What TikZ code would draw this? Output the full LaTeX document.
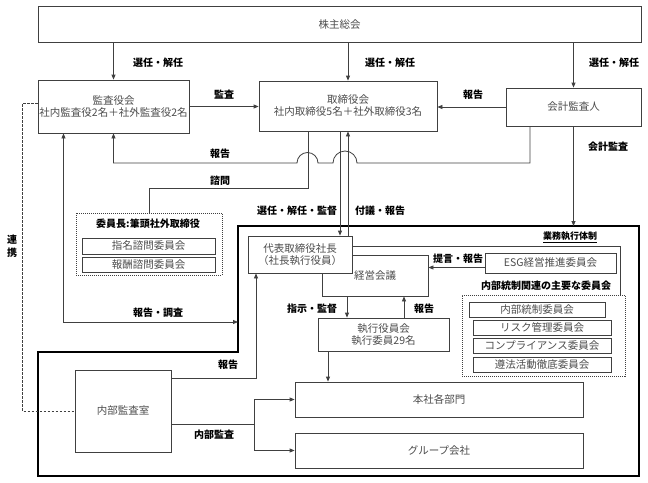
\documentclass[tikz,border=0pt]{standalone}
\usepackage{fontspec}
\setmainfont{Noto Sans CJK JP}
\usetikzlibrary{arrows.meta}

\tikzset{
   box/.style={draw=black!75, line width=0.8pt, fill=white, text=black!70, inner sep=0pt,
      align=center, font=\fontsize{10.5}{12}\selectfont},
   lbl/.style={text=black, inner sep=0pt, font=\bfseries\fontsize{10}{12}\selectfont},
   line/.style={draw=black!75, line width=0.8pt},
   arr/.style={line, -{Triangle[length=5pt,width=4pt]}},
   dblarr/.style={line, {Triangle[length=5pt,width=4pt]}-{Triangle[length=5pt,width=4pt]}},
   renkei/.style={line, dash pattern=on 2.5pt off 1.5pt},
   dotbox/.style={draw=black!75, line width=0.6pt, dash pattern=on 1pt off 1pt, inner sep=0pt},
   frame/.style={draw=black, line width=2.2pt},
}

\begin{document}
\begin{tikzpicture}[x=1pt,y=-1pt]
   \useasboundingbox (0,0) rectangle (648,482);

   % business execution frame
   \coordinate (fr-nw) at (238,226);
   \coordinate (fr-ne) at (639,226);
   \coordinate (fr-se) at (639,476);
   \coordinate (fr-sw) at (38,476);
   \coordinate (fr-w) at (38,352);
   \coordinate (fr-c) at (238,352);
   \draw[frame] (fr-nw) -- (fr-ne) -- (fr-se) -- (fr-sw) -- (fr-w) -- (fr-c) -- cycle;

   \node[box, minimum width=603pt, minimum height=35.5pt] (agm) at (339.5,24.25) {株主総会};
   \node[box, minimum width=151pt, minimum height=53pt] (kansa) at (113.5,106.5)
      {監査役会\\社内監査役2名＋社外監査役2名};
   \node[box, minimum width=178pt, minimum height=50pt] (tori) at (348,106)
      {取締役会\\社内取締役5名＋社外取締役3名};
   \node[box, minimum width=135pt, minimum height=38pt] (kaikei) at (573.5,107) {会計監査人};

   \node[dotbox, minimum width=146pt, minimum height=62pt] (advisory) at (149,244) {};
   \node[lbl] (chair) at (148,224) {委員長:筆頭社外取締役};
   \node[box, minimum width=133pt, minimum height=16pt] (shimei) at (148.5,246) {指名諮問委員会};
   \node[box, minimum width=133pt, minimum height=15pt] (houshu) at (148.5,264.5) {報酬諮問委員会};

   \node[box, minimum width=106pt, minimum height=41pt] (keiei) at (375,275.5) {経営会議};
   \node[box, minimum width=104pt, minimum height=37pt] (president) at (300,254.5)
      {代表取締役社長\\（社長執行役員）};
   \node[box, minimum width=131pt, minimum height=20pt] (esg) at (550.5,263) {ESG経営推進委員会};
   \node[lbl, font=\bfseries\fontsize{9}{11}\selectfont] (gyomu) at (570,237) {\underline{業務執行体制}};
   \node[lbl] (ic-title) at (546,286) {内部統制関連の主要な委員会};

   \node[dotbox, minimum width=163pt, minimum height=81pt] (icbox) at (543.5,335.5) {};
   \node[box, minimum width=136pt, minimum height=15pt] (naibutosei) at (537,309.5) {内部統制委員会};
   \node[box, minimum width=138pt, minimum height=15pt] (risk) at (542,327.5) {リスク管理委員会};
   \node[box, minimum width=138pt, minimum height=15pt] (comp) at (542,345.5) {コンプライアンス委員会};
   \node[box, minimum width=138pt, minimum height=15pt] (junpo) at (542,364.5) {遵法活動徹底委員会};

   \node[box, minimum width=131pt, minimum height=33pt] (shikkou) at (383.5,334.5)
      {執行役員会\\執行委員29名};
   \node[box, minimum width=96pt, minimum height=82pt] (audit) at (123,411) {内部監査室};
   \node[box, minimum width=288pt, minimum height=35pt] (honsha) at (439,399.5) {本社各部門};
   \node[box, minimum width=288pt, minimum height=35pt] (group) at (439,450.5) {グループ会社};

   % connectors
   \draw[arr] (agm.south -| kansa.north) -- (kansa.north);
   \draw[arr] (agm.south -| tori.north) -- (tori.north);
   \draw[arr] (agm.south -| kaikei.north) -- (kaikei.north);
   \draw[arr] (kansa.east) -- (kansa.east -| tori.west);
   \draw[arr] (kaikei.west) -- (kaikei.west -| tori.east);
   \draw[renkei] ([yshift=3.5pt]kansa.west) -- ++(-15,0) |- (audit.west);

   \coordinate (hop1) at (357,163);
   \coordinate (hop2) at (318,163);
   \draw[arr] ([xshift=-43.5pt]kaikei.south) |- (hop1) arc[start angle=0, end angle=180, radius=12pt]
      -- (hop2) arc[start angle=0, end angle=180, radius=10.5pt] -| (kansa.south);

   \coordinate (shimon) at (308,188);
   \draw[line] (advisory.north) |- (shimon) -- (shimon |- tori.south);

   \draw[arr] ([xshift=-8pt]tori.south) -- ([xshift=-8pt]tori.south |- president.north);
   \draw[arr] (tori.south |- president.north) -- (tori.south);
   \draw[arr] (kaikei.south) -- (kaikei.south |- fr-nw);

   \coordinate (chosa) at (238,322);
   \draw[dblarr] ([xshift=-50pt]kansa.south) |- (chosa);

   \draw[arr] ([yshift=-4.5pt]esg.west) -- ([yshift=-4.5pt]esg.west -| keiei.east);
   \draw[line] ([yshift=8.5pt]president.east) -| ([xshift=76.5pt]icbox.north);
   \draw[arr] ([xshift=-28pt]keiei.south) -- ([xshift=-28pt]keiei.south |- shikkou.north);
   \draw[arr] ([xshift=29pt]keiei.south |- shikkou.north) -- ([xshift=29pt]keiei.south);
   \draw[arr] ([xshift=-55.5pt]shikkou.south) -- ([xshift=-55.5pt]shikkou.south |- honsha.north);

   \draw[arr] ([yshift=33pt]audit.east) -| ([xshift=-44pt]president.south);
   \draw[line] ([yshift=-13pt]audit.east) -- ++(83,0) coordinate (fork);
   \draw[arr] (fork) |- (honsha.west);
   \draw[arr] (fork) |- (group.west);

   % labels
   \node[lbl] (l-sennin1) at (158,63) {選任・解任};
   \node[lbl] (l-sennin2) at (390,63) {選任・解任};
   \node[lbl] (l-sennin3) at (614,63) {選任・解任};
   \node[lbl] (l-kansa) at (224,95) {監査};
   \node[lbl] (l-hokoku1) at (473,95) {報告};
   \node[lbl] (l-kaikei) at (608,147) {会計監査};
   \node[lbl] (l-hokoku2) at (220,154) {報告};
   \node[lbl] (l-shimon) at (220,181) {諮問};
   \node[lbl] (l-kantoku) at (297,211) {選任・解任・監督};
   \node[lbl] (l-fugi) at (380,211) {付議・報告};
   \node[lbl] (l-teigen) at (458,259) {提言・報告};
   \node[lbl] (l-shiji) at (312,309) {指示・監督};
   \node[lbl] (l-hokoku3) at (424,309) {報告};
   \node[lbl] (l-chosa) at (158,313) {報告・調査};
   \node[lbl] (l-hokoku4) at (228,365) {報告};
   \node[lbl] (l-naibu) at (214,435) {内部監査};
   \node[lbl, align=center, font=\bfseries\fontsize{10}{13}\selectfont] (l-renkei) at (12,246) {連\\携};
\end{tikzpicture}
\end{document}
